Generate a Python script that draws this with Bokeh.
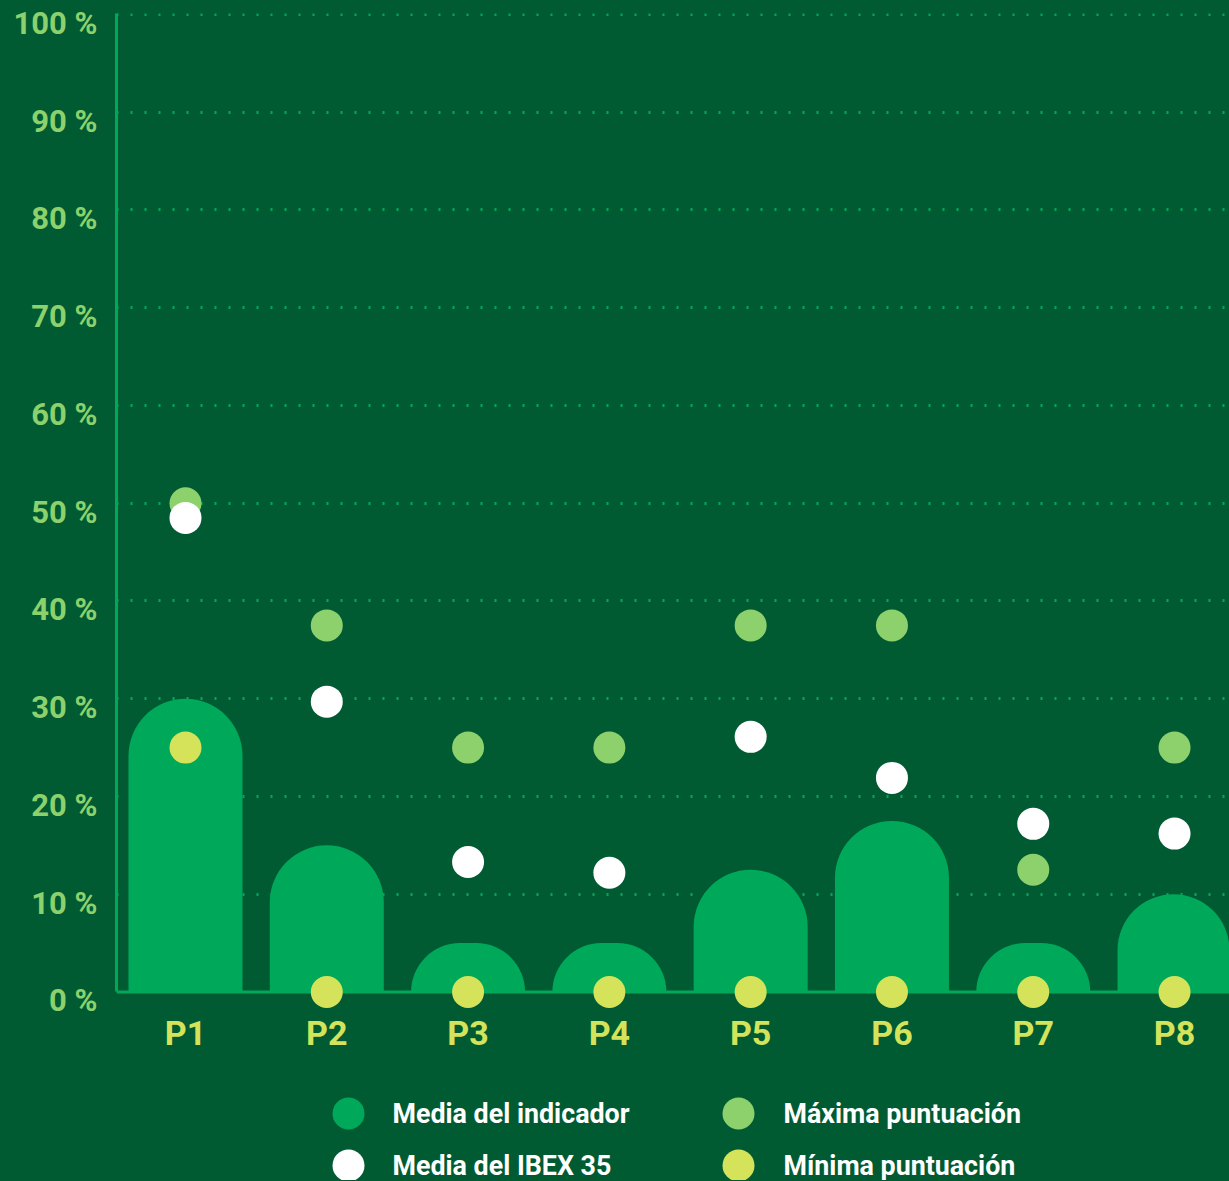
import numpy as np
from bokeh.plotting import figure
from bokeh.models import (Range1d, FixedTicker, ColumnDataSource, Span, LinearAxis,
                          GlobalInlineStyleSheet)
from bokeh.layouts import column
from bokeh.core.properties import value
from bokeh.embed import file_html
from bokeh.resources import INLINE

# ---------------- data ----------------
categories = ["P1", "P2", "P3", "P4", "P5", "P6", "P7", "P8"]
media_indicador = [30, 15, 5, 5, 12.5, 17.5, 5, 10]
media_ibex = [48.5, 29.7, 13.3, 12.2, 26.1, 21.9, 17.2, 16.2]
maxima = [50, 37.5, 25, 25, 37.5, 37.5, 12.5, 25]
minima = [25, 0, 0, 0, 0, 0, 0, 0]
y_ticks = [0, 10, 20, 30, 40, 50, 60, 70, 80, 90, 100]
y_tick_labels = [f"{v} %" for v in y_ticks]
legend_labels = ["Media del indicador", "Media del IBEX 35",
                 "Máxima puntuación", "Mínima puntuación"]

# ---------------- style ----------------
BG = "#005B33"
BAR = "#00A859"
MAXC = "#8DD16C"
MINC = "#D4E35A"
WHITE = "#FFFFFF"
FONT = "Roboto"

xs = list(range(len(categories)))
X_START = -0.4883
X_END = 7.389
Y_START, Y_END = -2.0, 100.1
LABEL_SHIFT = 0.92   # tick labels sit ~9px below their grid line

p = figure(width=1229, height=1080, output_backend="svg", toolbar_location=None,
           x_range=Range1d(X_START, X_END), y_range=Range1d(Y_START, Y_END),
           min_border_left=116, min_border_right=0, min_border_top=13,
           min_border_bottom=69)
p.background_fill_color = BG
p.border_fill_color = BG
p.outline_line_color = None

# grid
p.xgrid.visible = False
p.ygrid.ticker = FixedTicker(ticks=y_ticks[1:])
p.ygrid.grid_line_color = BAR
p.ygrid.grid_line_width = 3
p.ygrid.grid_line_dash = "2 12"

# y axis line (no ticks)
p.yaxis.ticker = FixedTicker(ticks=[])
p.yaxis.bounds = (0, Y_END)
p.yaxis.major_tick_line_color = None
p.yaxis.minor_tick_line_color = None
p.yaxis.major_tick_out = 0
p.yaxis.axis_line_color = BAR
p.yaxis.axis_line_width = 3

# y tick labels on a slightly shifted range
p.extra_y_ranges = {"lab": Range1d(Y_START + LABEL_SHIFT, Y_END + LABEL_SHIFT)}
lab_axis = LinearAxis(y_range_name="lab", ticker=FixedTicker(ticks=y_ticks),
                      major_label_overrides={v: t for v, t in zip(y_ticks, y_tick_labels)},
                      axis_line_color=None, major_tick_line_color=None,
                      minor_tick_line_color=None, major_tick_out=0, major_tick_in=0,
                      major_label_standoff=19,
                      major_label_text_font=FONT, major_label_text_font_style="bold",
                      major_label_text_font_size="31px",
                      major_label_text_color=MAXC)
p.add_layout(lab_axis, "left")

# x axis (labels only)
p.xaxis.ticker = FixedTicker(ticks=xs)
p.xaxis.major_label_overrides = {i: c for i, c in zip(xs, categories)}
p.xaxis.major_tick_line_color = None
p.xaxis.minor_tick_line_color = None
p.xaxis.major_tick_out = 0
p.xaxis.major_tick_in = 0
p.xaxis.axis_line_color = None
p.xaxis.major_label_text_font = FONT
p.xaxis.major_label_text_font_style = "bold"
p.xaxis.major_label_text_font_size = "34px"
p.xaxis.major_label_text_color = MINC
p.xaxis.major_label_standoff = 1

# baseline (x axis line at 0)
p.add_layout(Span(location=0, dimension="width", line_color=BAR, line_width=3,
                  level="underlay"))

src = ColumnDataSource(dict(x=xs, cat=categories, media=media_indicador,
                            ibex=media_ibex, maxv=maxima, minv=minima))

p.vbar(x="x", top="media", bottom=0, width=0.807, source=src,
       fill_color=BAR, line_color=None, border_radius=(57, 57, 0, 0))
p.scatter(x="x", y="maxv", size=32, source=src, fill_color=MAXC, line_color=None)
p.scatter(x="x", y="ibex", size=32, source=src, fill_color=WHITE, line_color=None)
p.scatter(x="x", y="minv", size=32, source=src, fill_color=MINC, line_color=None)

# ---------------- legend ----------------
leg = figure(width=1229, height=100, output_backend="svg", toolbar_location=None,
             x_range=Range1d(116, 1229), y_range=Range1d(0, 100),
             min_border_left=116, min_border_right=0, min_border_top=0,
             min_border_bottom=0, x_axis_location=None, y_axis_location=None)
leg.background_fill_color = BG
leg.border_fill_color = BG
leg.outline_line_color = None
leg.grid.visible = False

leg_colors = [BAR, WHITE, MAXC, MINC]
leg_mx = [348, 348, 738, 738]
leg_my = [67, 15, 67, 15]
leg_tx = [392, 392, 783, 783]
lsrc = ColumnDataSource(dict(mx=leg_mx, my=leg_my, tx=leg_tx, c=leg_colors,
                             t=legend_labels))
leg.scatter(x="mx", y="my", size=32, fill_color="c", line_color=None, source=lsrc)
leg.text(x="tx", y="my", text="t", source=lsrc, text_color=WHITE,
         text_font=value(FONT), text_font_style="bold", text_font_size="26.8px",
         text_baseline="middle", text_align="left")

layout = column(p, leg, spacing=0)
layout.stylesheets = [GlobalInlineStyleSheet(css=f"body{{background:{BG};}}")]

open("out.html", "w").write(file_html(layout, INLINE))
